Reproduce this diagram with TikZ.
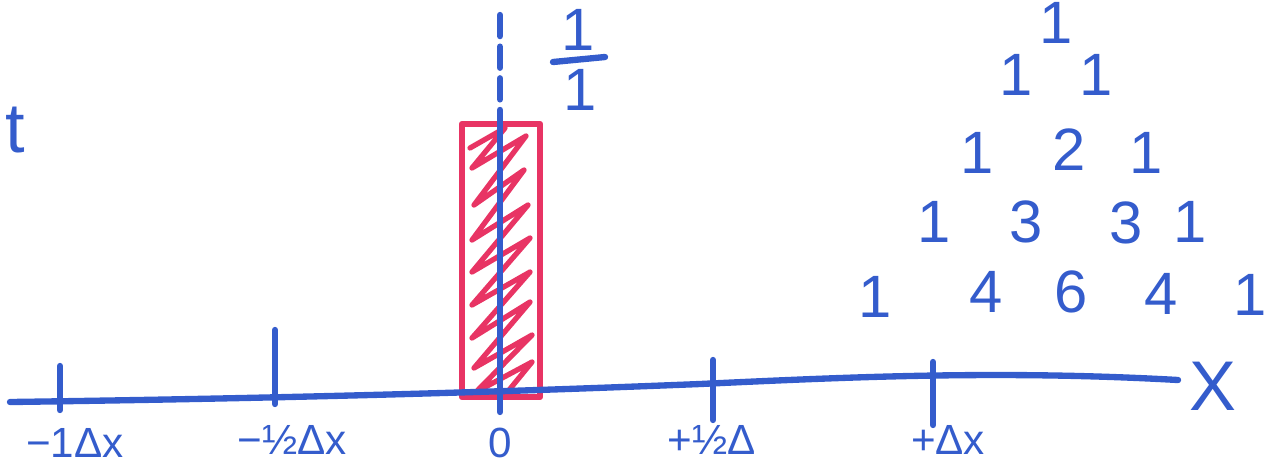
\documentclass[tikz,border=0pt]{standalone}
\usepackage{fontspec}
\setmainfont{Liberation Sans}
\definecolor{pen}{RGB}{52,92,204}
\definecolor{marker}{RGB}{232,52,100}
\begin{document}
\begin{tikzpicture}[x=0.01cm,y=-0.01cm,line cap=round,line join=round,
  ink/.style={pen,line width=1.8pt},
  redink/.style={marker,line width=1.8pt},
  lbl/.style={pen,font=\fontsize{12}{14}\selectfont,inner sep=0pt},
  num/.style={pen,font=\fontsize{17}{19}\selectfont,inner sep=0pt},
  big/.style={pen,font=\fontsize{20}{22}\selectfont,inner sep=0pt}]
\useasboundingbox (0,0) rectangle (1264,475);
\clip (0,0) rectangle (1264,475);
% hatched red rectangle
\coordinate (rTL) at (462,124);
\coordinate (rBR) at (540,397);
\draw[redink] (rTL) rectangle (rBR);
\draw[redink,line width=1.5pt] (470,148) -- (505,128) -- (472,168) -- (526,136) -- (474,205)
  -- (524,170) -- (472,240) -- (528,205) -- (472,272) -- (530,238) -- (472,305)
  -- (530,272) -- (472,338) -- (530,302) -- (474,368) -- (532,335) -- (476,392)
  -- (532,362) -- (505,395);
% dashed centre line
\coordinate (cTop) at (500,15);
\coordinate (cMid) at (500,125);
\coordinate (cBot) at (500,412);
\draw[ink,dash pattern=on 6pt off 3pt] (cTop) -- (cMid);
\draw[ink] (cMid) -- (cBot);
% x axis
\coordinate (axL) at (10,402);
\coordinate (axM) at (700,384);
\coordinate (axR) at (1178,380);
\draw[ink] (axL) .. controls (300,398) and (500,392) .. (axM)
  .. controls (850,377) and (1000,370) .. (axR);
% ticks
\coordinate (t1a) at (60,366);  \coordinate (t1b) at (60,410);
\coordinate (t2a) at (275,330); \coordinate (t2b) at (275,404);
\coordinate (t3a) at (713,360); \coordinate (t3b) at (713,420);
\coordinate (t4a) at (933,362); \coordinate (t4b) at (933,425);
\draw[ink] (t1a) -- (t1b);
\draw[ink] (t2a) -- (t2b);
\draw[ink] (t3a) -- (t3b);
\draw[ink] (t4a) -- (t4b);
% axis labels
\node[lbl] (lm1) at (75,443) {−1Δx};
\node[lbl] (lmh) at (292,440) {−½Δx};
\node[lbl] (l0) at (500,443) {0};
\node[lbl] (lph) at (712,440) {+½Δ};
\node[lbl] (lp1) at (948,440) {+Δx};
\node[big] (lx) at (1213,386) {X};
\node[big] (lt) at (15,130) {t};
% fraction 1/1
\node[num] (fn) at (578,30) {1};
\coordinate (fbL) at (553,62);
\coordinate (fbR) at (605,57);
\draw[ink] (fbL) -- (fbR);
\node[num] (fd) at (580,90) {1};
% Pascal triangle
\node[num] (p00) at (1056,23) {1};
\node[num] (p10) at (1016,75) {1};
\node[num] (p11) at (1096,75) {1};
\node[num] (p20) at (977,153) {1};
\node[num] (p21) at (1069,150) {2};
\node[num] (p22) at (1146,153) {1};
\node[num] (p30) at (934,222) {1};
\node[num] (p31) at (1026,222) {3};
\node[num] (p32) at (1126,223) {3};
\node[num] (p33) at (1190,222) {1};
\node[num] (p40) at (875,297) {1};
\node[num] (p41) at (986,292) {4};
\node[num] (p42) at (1071,292) {6};
\node[num] (p43) at (1161,294) {4};
\node[num] (p44) at (1250,295) {1};
\end{tikzpicture}
\end{document}
